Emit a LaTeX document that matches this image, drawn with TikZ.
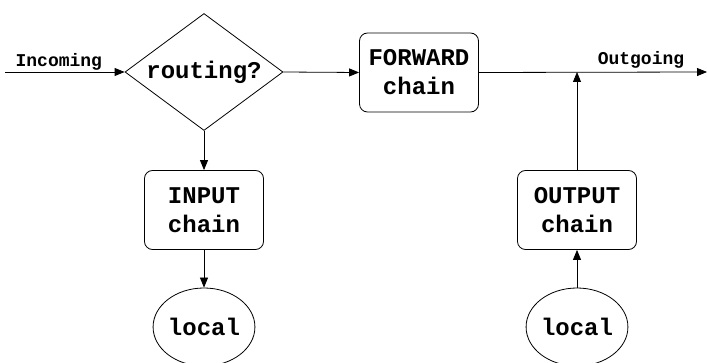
\documentclass[tikz,border=0pt]{standalone}
\usepackage{fontspec}
\setmonofont{Liberation Mono}
\usetikzlibrary{shapes.geometric,arrows.meta}
\tikzset{
  boxfont/.style={font=\ttfamily\bfseries\fontsize{24}{29}\selectfont},
  chainbox/.style={draw, rounded corners=8pt, minimum width=119pt, minimum height=79pt,
    align=center, boxfont, line width=0.8pt},
  decision/.style={draw, diamond, aspect=1.35, inner sep=0pt, minimum width=158pt, minimum height=117pt,
    boxfont, line width=0.8pt},
  hostnode/.style={draw, ellipse, minimum width=98pt, minimum height=78pt, inner sep=0pt,
    boxfont, line width=0.8pt},
  flowlabel/.style={font=\ttfamily\bfseries\fontsize{18}{20}\selectfont, inner sep=1pt},
  flow/.style={line width=0.8pt, -{Triangle[length=10pt,width=8pt]}}
}
\begin{document}
\begin{tikzpicture}[x=1pt,y=-1pt]
\useasboundingbox (0,0) rectangle (707,363);
\node[decision] (route) at (204,72) {routing?};
\node[chainbox] (fwd) at (419,72.5) {FORWARD\\chain};
\node[chainbox] (inp) at (204,210) {INPUT\\chain};
\node[chainbox] (outp) at (577,210) {OUTPUT\\chain};
\node[hostnode] (lin) at (204,327) {local};
\node[hostnode] (lout) at (577,327) {local};
\coordinate (src) at (5,72);
\coordinate (dst) at (707,72);
\coordinate (join) at (577,72);
% incoming traffic
\draw[flow] (src) -- node[flowlabel, pos=0.45, anchor=south] {Incoming} (route.west);
% routing decision branches
\draw[flow] (route.east) -- (fwd.west);
\draw[flow] (route.south) -- (inp.north);
\draw[flow] (inp.south) -- (lin.north);
% outgoing traffic
\draw[flow] (fwd.east) -- (dst);
\node[flowlabel, anchor=south] at (641,70) {Outgoing};
\draw[flow] (lout.north) -- (outp.south);
\draw[flow] (outp.north) -- (join);
\end{tikzpicture}
\end{document}
